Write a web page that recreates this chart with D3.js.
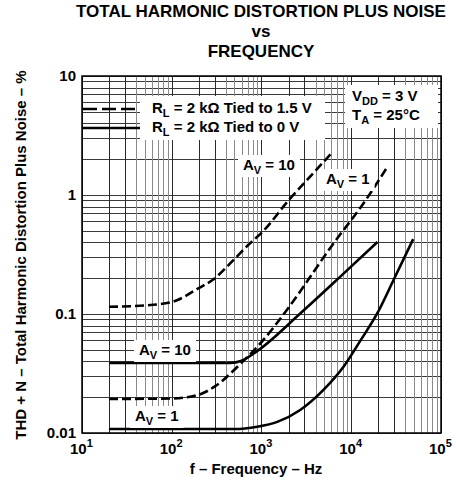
<!DOCTYPE html>
<html>
<head>
<meta charset="utf-8">
<script src="https://cdn.jsdelivr.net/npm/d3@7"></script>
<style>
    body { margin: 0; background: #fff; }
    text { font-family: "Liberation Sans", Arial, sans-serif; font-weight: bold; fill: #000; }
</style>
</head>
<body>
<div id="chart"></div>
<script>
/*
 * Chart data.
 */
var titleLines = ['TOTAL HARMONIC DISTORTION PLUS NOISE', 'vs', 'FREQUENCY'];
var xDomain = [10, 1e5];
var yDomain = [0.01, 10];
var xTickExponents = [1, 2, 3, 4, 5];
var yTickValues = [0.01, 0.1, 1, 10];
var yTickLabels = ['0.01', '0.1', '1', '10'];

// RL = 2 kOhm tied to 1.5 V (dashed)
var dashedAv10 = [[20, 0.115], [50, 0.118], [100, 0.126], [200, 0.165], [290, 0.195],
    [500, 0.29], [750, 0.395], [1000, 0.48], [2000, 0.9], [4000, 1.6], [6200, 2.3]];
var dashedAv1 = [[20, 0.0193], [100, 0.0195], [200, 0.021], [300, 0.0245], [580, 0.038],
    [1000, 0.058], [2000, 0.113], [6000, 0.37], [14400, 0.9], [25000, 1.7]];
// RL = 2 kOhm tied to 0 V (solid)
var solidAv10 = [[20, 0.0388], [450, 0.0388], [600, 0.0405], [900, 0.049], [2700, 0.101],
    [7500, 0.205], [19600, 0.403]];
var solidAv1 = [[20, 0.0108], [500, 0.0108], [900, 0.0113], [1500, 0.0124], [2700, 0.0156],
    [4900, 0.023], [8200, 0.036], [12700, 0.06], [19600, 0.102], [29600, 0.193], [49000, 0.426]];

var seriesList = [
    {values: dashedAv10, dashed: true},
    {values: dashedAv1, dashed: true},
    {values: solidAv10, dashed: false},
    {values: solidAv1, dashed: false}
];

/*
 * Layout.
 */
var width = 456, height = 483;
var plot = {left: 82, right: 441, top: 76, bottom: 433};

var svg = d3.select('#chart').append('svg')
    .attr('width', width)
    .attr('height', height);

var x = d3.scaleLog().domain(xDomain).range([plot.left, plot.right]);
var y = d3.scaleLog().domain(yDomain).range([plot.bottom, plot.top]);

/*
 * Title.
 */
svg.selectAll('text.title')
    .data(titleLines)
    .enter().append('text')
    .attr('class', 'title')
    .attr('x', 261)
    .attr('y', function(d, i) { return 17 + i * 20; })
    .attr('text-anchor', 'middle')
    .style('font-size', '17px')
    .text(function(d) { return d; });

/*
 * Grid.
 */
var grid = svg.append('g').attr('class', 'grid');

grid.selectAll('line.h')
    .data(y.ticks())
    .enter().append('line')
    .attr('x1', plot.left).attr('x2', plot.right)
    .attr('y1', function(d) { return Math.round(y(d)) + 0.5; })
    .attr('y2', function(d) { return Math.round(y(d)) + 0.5; })
    .attr('stroke', '#3a3a3a')
    .attr('stroke-width', 1);

grid.selectAll('line.v')
    .data(x.ticks())
    .enter().append('line')
    .attr('y1', plot.top).attr('y2', plot.bottom)
    .attr('x1', function(d) { return Math.round(x(d)) + 0.5; })
    .attr('x2', function(d) { return Math.round(x(d)) + 0.5; })
    .attr('stroke', function(d) {
        var m = Math.round(d / Math.pow(10, Math.floor(Math.log10(d) + 1e-9)));
        return m <= 3 ? '#2a2a2a' : '#8a8a8a';
    })
    .attr('stroke-width', 1);

/*
 * White boxes behind the legend and conditions.
 */
svg.append('rect')
    .attr('x', 140).attr('y', 96).attr('width', 185).attr('height', 44)
    .attr('fill', '#fff');
svg.append('rect')
    .attr('x', 345).attr('y', 85).attr('width', 93).attr('height', 43)
    .attr('fill', '#fff');

/*
 * Plot frame.
 */
svg.append('rect')
    .attr('x', plot.left).attr('y', plot.top)
    .attr('width', plot.right - plot.left)
    .attr('height', plot.bottom - plot.top)
    .attr('fill', 'none')
    .attr('stroke', '#000')
    .attr('stroke-width', 1.5);

/*
 * Gain labels with white backgrounds.
 */
var gainLabels = [
    {gain: '10', x: 243, y: 170},
    {gain: '1', x: 326, y: 184},
    {gain: '10', x: 139, y: 355},
    {gain: '1', x: 135, y: 421}
];

var labelGroup = svg.append('g');
gainLabels.forEach(function(d) {
    var g = labelGroup.append('g');
    var bg = g.append('rect').attr('fill', '#fff');
    var t = g.append('text')
        .attr('x', d.x).attr('y', d.y)
        .style('font-size', '15px');
    t.append('tspan').text('A');
    t.append('tspan').attr('dy', 4).style('font-size', '11px').text('V');
    t.append('tspan').attr('dy', -4).text(' = ' + d.gain);
    var b = t.node().getBBox();
    bg.attr('x', b.x - 5).attr('y', b.y - 1)
        .attr('width', b.width + 10).attr('height', b.height + 2);
});

/*
 * Curves.
 */
var line = d3.line()
    .x(function(d) { return x(d[0]); })
    .y(function(d) { return y(d[1]); })
    .curve(d3.curveMonotoneX);

svg.selectAll('path.curve')
    .data(seriesList)
    .enter().append('path')
    .attr('class', 'curve')
    .attr('d', function(d) { return line(d.values); })
    .attr('fill', 'none')
    .attr('stroke', '#000')
    .attr('stroke-width', 2.6)
    .attr('stroke-dasharray', function(d) { return d.dashed ? '9,4' : null; });

// bring labels above curves
labelGroup.raise();

/*
 * Legend.
 */
var legendItems = [
    {dashed: true, text: ' = 2 k\u03A9 Tied to 1.5 V', y: 109},
    {dashed: false, text: ' = 2 k\u03A9 Tied to 0 V', y: 128}
];
legendItems.forEach(function(d) {
    svg.append('line')
        .attr('x1', plot.left + 1).attr('x2', 140)
        .attr('y1', d.y).attr('y2', d.y)
        .attr('stroke', '#000')
        .attr('stroke-width', 2.6)
        .attr('stroke-dasharray', d.dashed ? '14,5' : null);
    var t = svg.append('text')
        .attr('x', 152).attr('y', d.y + 4)
        .style('font-size', '15px');
    t.append('tspan').text('R');
    t.append('tspan').attr('dy', 4).style('font-size', '11px').text('L');
    t.append('tspan').attr('dy', -4).text(d.text);
});

/*
 * Test conditions.
 */
var cond = [
    {main: 'V', sub: 'DD', rest: ' = 3 V', y: 101},
    {main: 'T', sub: 'A', rest: ' = 25\u00B0C', y: 120}
];
cond.forEach(function(d) {
    var t = svg.append('text')
        .attr('x', 352).attr('y', d.y)
        .style('font-size', '15px');
    t.append('tspan').text(d.main);
    t.append('tspan').attr('dy', 4).style('font-size', '11px').text(d.sub);
    t.append('tspan').attr('dy', -4).text(d.rest);
});

/*
 * Y tick labels.
 */
svg.selectAll('text.ytick')
    .data(yTickValues)
    .enter().append('text')
    .attr('class', 'ytick')
    .attr('x', 76)
    .attr('y', function(d) { return y(d) + 5; })
    .attr('text-anchor', 'end')
    .style('font-size', '15px')
    .text(function(d, i) { return yTickLabels[i]; });

/*
 * X tick labels.
 */
var xt = svg.selectAll('text.xtick')
    .data(xTickExponents)
    .enter().append('text')
    .attr('class', 'xtick')
    .attr('x', function(d) { return x(Math.pow(10, d)) - 12; })
    .attr('y', 454)
    .style('font-size', '15px');
xt.append('tspan').text('10');
xt.append('tspan').attr('dy', -7).style('font-size', '11px').text(function(d) { return d; });

/*
 * Axis titles.
 */
svg.append('text')
    .attr('x', 256).attr('y', 474)
    .attr('text-anchor', 'middle')
    .style('font-size', '15px')
    .text('f \u2013 Frequency \u2013 Hz');

svg.append('text')
    .attr('transform', 'translate(26,255) rotate(-90)')
    .attr('text-anchor', 'middle')
    .style('font-size', '15px')
    .text('THD + N \u2013 Total Harmonic Distortion Plus Noise \u2013 %');
</script>
</body>
</html>
